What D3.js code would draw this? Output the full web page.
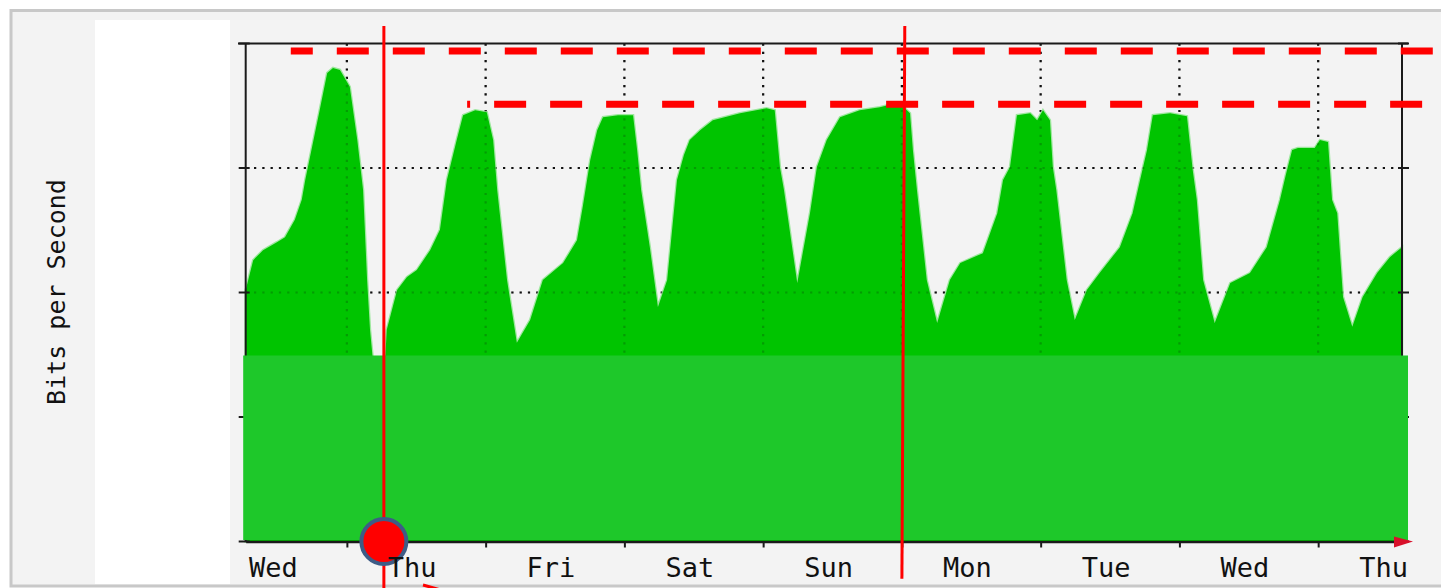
<!DOCTYPE html>
<html>
<head>
<meta charset="utf-8">
<script src="https://cdn.jsdelivr.net/npm/d3@7"></script>
<style>
html, body { margin: 0; padding: 0; background: #fff; }
svg { display: block; }
text { font-family: "DejaVu Sans Mono", "Liberation Mono", monospace; fill: #111; }
</style>
</head>
<body>
<svg width="1441" height="588"></svg>
<script>
// day names under the x axis, one per day (centred at noon)
var dayLabels = ["Wed", "Thu", "Fri", "Sat", "Sun", "Mon", "Tue", "Wed", "Thu"];

// traffic samples: hours since graph start / level (axis labels are blanked out, 0..100 of full scale)
var hours = [0, 1.3, 3.0, 5.4, 6.8, 8.5, 9.7, 10.3, 12.9, 14.1,
	15.1, 16.3, 18.0, 19.3, 20.3, 21.0, 21.5, 22.2, 24.0, 24.4,
	26.2, 27.9, 29.6, 31.9, 33.6, 34.8, 36.5, 37.6, 39.7, 41.7,
	42.8, 43.5, 45.2, 46.9, 49.2, 51.4, 54.9, 57.3, 58.3, 59.6,
	60.8, 61.8, 64.4, 67.0, 67.7, 68.4, 69.9, 71.3, 72.9, 74.6,
	75.8, 76.8, 78.6, 80.8, 85.5, 90.1, 91.5, 92.4, 93.1, 95.4,
	97.6, 98.8, 100.5, 102.8, 106.2, 109.7, 112.3, 114.0, 114.9, 115.4,
	116.1, 117.8, 119.6, 121.8, 123.6, 127.5, 130.0, 131.0, 132.2, 133.4,
	135.7, 136.9, 137.9, 139.1, 139.6, 140.2, 142.0, 143.4, 145.5, 147.7,
	151.2, 153.4, 154.7, 155.9, 156.9, 159.9, 162.8, 163.8, 164.5, 165.6,
	167.6, 170.3, 173.7, 176.6, 178.9, 179.9, 181.0, 182.0, 184.9, 185.8,
	187.2, 187.9, 188.8, 189.8, 191.4, 193.2, 195.7, 197.9, 200];
var traffic = [50.5, 56.5, 58.5, 60.1, 61.1, 64.6, 68.6, 72.6, 87.2, 94.1,
	95.1, 94.7, 91.3, 80.6, 70.6, 52.5, 42.5, 34, 34, 42.5,
	50.5, 53.1, 54.5, 58.5, 62.6, 72.6, 80.6, 85.6, 86.6, 86.2,
	80.6, 70.6, 52.5, 39.9, 44.5, 52.5, 55.9, 60.5, 67.2, 76.6,
	82.6, 85.2, 85.6, 85.6, 78.6, 70.6, 59.1, 47.1, 52.5, 72.6,
	77.6, 80.6, 82.6, 84.6, 86.0, 87.0, 86.6, 75.2, 70.6, 51.9,
	65.9, 75.2, 80.6, 85.2, 86.6, 87.2, 88.0, 87.0, 86.0, 78.6,
	70.6, 52.5, 43.9, 52.5, 55.9, 57.9, 65.9, 72.6, 75.2, 85.6,
	86.0, 84.6, 86.6, 84.6, 75.2, 70.6, 52.5, 44.5, 50.5, 53.9,
	59.1, 65.9, 72.6, 78.6, 85.6, 86.0, 85.4, 74.6, 68.6, 52.5,
	43.9, 51.9, 53.9, 59.1, 68.6, 73.6, 78.6, 79.0, 79.0, 80.6,
	80.2, 68.6, 65.9, 49.1, 43.1, 49.1, 53.9, 57.1, 59.1];

var gridValues = [25, 50, 75];
var yTicks = [0, 25, 50, 75, 100];

// annotations drawn over the graph (in data units)
var limitLevels = [98.5, 87.8];      // red dashed lines
var limitFrom = [7.8, 38.3];
var limitTo = [205.4, 203.5];
var limitOffset = [10, 29];
var cutLevel = 37.35;                // flat green block covering the lower part
var markTop = [[23.9, 103.5], [114.0, 103.5]];   // red vertical lines
var markBottom = [[23.9, -9.4], [113.5, -7.5]];
var dotHour = 23.9;

var svg = d3.select("svg");
var start = new Date(2015, 0, 7, 6, 30);
var end = new Date(start.getTime() + 200 * 3600e3);
function t(h) { return new Date(start.getTime() + h * 3600e3); }

var x = d3.scaleTime().domain([start, end]).range([245.7, 1402]);
var y = d3.scaleLinear().domain([0, 100]).range([541.5, 43.5]);
var x0 = x.range()[0], x1 = x.range()[1];

var points = hours.map(function(h, i) { return { h: h, v: traffic[i] }; });
var days = d3.timeDay.range(start, end);

// panel
svg.append("rect").attr("x", 11).attr("y", 10.5).attr("width", 1440).attr("height", 575.5)
	.attr("fill", "#f3f3f3").attr("stroke", "#c8c8c8").attr("stroke-width", 3);
svg.append("rect").attr("x", 95).attr("y", 20).attr("width", 135).attr("height", 564)
	.attr("fill", "#fff");

function drawGrid(g) {
	g.selectAll(".hg").data(gridValues).enter().append("line")
		.attr("x1", x0).attr("x2", x1)
		.attr("y1", function(d) { return y(d); }).attr("y2", function(d) { return y(d); });
	g.selectAll(".vg").data(days).enter().append("line")
		.attr("x1", function(d) { return x(d); }).attr("x2", function(d) { return x(d); })
		.attr("y1", y(100)).attr("y2", y(0));
	g.selectAll("line").attr("stroke", "#111").attr("stroke-width", 2.2)
		.attr("stroke-dasharray", "2.2,6.1");
}

drawGrid(svg.append("g"));

// traffic area
var area = d3.area()
	.x(function(d) { return x(t(d.h)); })
	.y0(y(0))
	.y1(function(d) { return y(d.v); });

svg.append("path").datum(points).attr("d", area)
	.attr("fill", "#00c400").attr("stroke", "#9ee89e").attr("stroke-width", 2.5);
svg.append("path").datum(points).attr("d", area).attr("fill", "#00c400");

drawGrid(svg.append("g").attr("opacity", 0.22));

// frame and axes
var frame = svg.append("g").attr("stroke", "#1a1a1a").attr("stroke-width", 2);
frame.append("line").attr("x1", 238).attr("x2", x1 + 6).attr("y1", y(100)).attr("y2", y(100));
frame.append("line").attr("x1", x0).attr("x2", x0).attr("y1", y(100)).attr("y2", y(0));
frame.append("line").attr("x1", x1).attr("x2", x1).attr("y1", y(100)).attr("y2", y(0));
frame.selectAll(".yl").data(yTicks).enter().append("line")
	.attr("x1", x0 - 7).attr("x2", x0 + 4)
	.attr("y1", function(d) { return y(d); }).attr("y2", function(d) { return y(d); });
frame.selectAll(".yr").data(yTicks).enter().append("line")
	.attr("x1", x1 - 4).attr("x2", x1 + 7)
	.attr("y1", function(d) { return y(d); }).attr("y2", function(d) { return y(d); });

// flat block over the lower part
svg.append("rect")
	.attr("x", x0 - 2.5).attr("y", y(cutLevel))
	.attr("width", x1 - x0 + 8.5).attr("height", y(0) - 1.5 - y(cutLevel))
	.attr("fill", "#1ec82a");

// bottom axis
var xAxis = svg.append("g").attr("transform", "translate(0," + y(0) + ")")
	.call(d3.axisBottom(x).tickValues(days).tickSize(6).tickSizeOuter(0).tickFormat(""));
xAxis.select(".domain").attr("stroke", "#1a1a1a").attr("stroke-width", 2.5);
xAxis.selectAll(".tick line").attr("stroke", "#1a1a1a").attr("stroke-width", 2);

svg.append("path")
	.attr("d", d3.line()([[x1 - 8, y(0) - 5], [x1 + 11, y(0)], [x1 - 8, y(0) + 6]]))
	.attr("fill", "#d8102a");

// red dashed limit lines
svg.selectAll(".limit").data(limitLevels).enter().append("line")
	.attr("x1", function(d, i) { return x(t(limitFrom[i])); })
	.attr("x2", function(d, i) { return x(t(limitTo[i])); })
	.attr("y1", function(d) { return y(d); }).attr("y2", function(d) { return y(d); })
	.attr("stroke", "#ff0000").attr("stroke-width", 7)
	.attr("stroke-dasharray", "32,24")
	.attr("stroke-dashoffset", function(d, i) { return limitOffset[i]; });

// red vertical markers
svg.selectAll(".mark").data(markTop).enter().append("line")
	.attr("x1", function(d) { return x(t(d[0])); }).attr("y1", function(d) { return y(d[1]); })
	.attr("x2", function(d, i) { return x(t(markBottom[i][0])); })
	.attr("y2", function(d, i) { return y(markBottom[i][1]); })
	.attr("stroke", "#ff0000").attr("stroke-width", 3);

svg.append("line").attr("x1", 423).attr("y1", 585).attr("x2", 448).attr("y2", 592)
	.attr("stroke", "#ff0000").attr("stroke-width", 3);

svg.append("circle").attr("cx", x(t(dotHour))).attr("cy", y(0)).attr("r", 22.5)
	.attr("fill", "#ff0000").attr("stroke", "#3e5c86").attr("stroke-width", 4);

// labels
svg.selectAll(".day").data(dayLabels).enter().append("text")
	.attr("x", function(d, i) { return x(d3.timeHour.offset(d3.timeDay.floor(start), 12 + 24 * i)) - 4; })
	.attr("y", 577)
	.attr("text-anchor", "middle")
	.attr("font-size", 27)
	.text(function(d) { return d; });

svg.append("text")
	.attr("transform", "translate(65," + 292 + ") rotate(-90)")
	.attr("text-anchor", "middle")
	.attr("font-size", 25)
	.text("Bits per Second");
</script>
</body>
</html>
